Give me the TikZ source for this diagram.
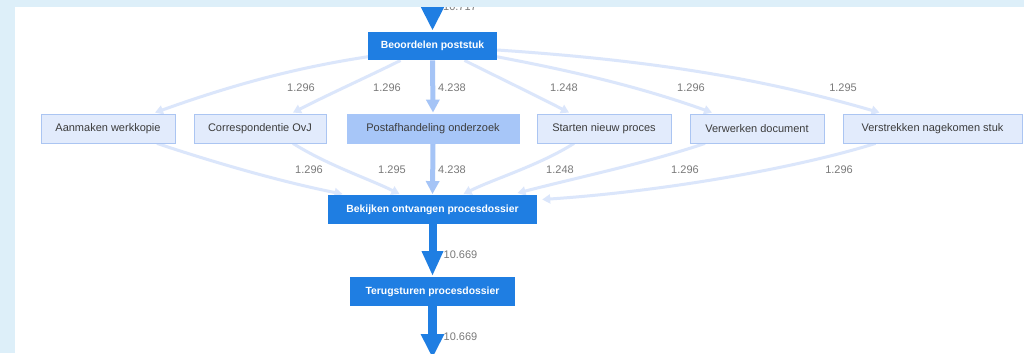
\documentclass[tikz,border=0pt]{standalone}
\usepackage{fontspec}
\setmainfont{Liberation Sans}
\usetikzlibrary{arrows.meta,backgrounds}
\definecolor{band}{RGB}{221,239,249}
\definecolor{dblue}{RGB}{31,126,226}
\definecolor{lfill}{RGB}{226,235,252}
\definecolor{lborder}{RGB}{171,197,242}
\definecolor{mfill}{RGB}{167,198,248}
\definecolor{ledge}{RGB}{219,230,251}
\definecolor{medge}{RGB}{165,196,246}
\definecolor{lbl}{RGB}{122,122,122}
\definecolor{txt}{RGB}{60,60,60}
\tikzset{
  darknode/.style={fill=dblue, text=white, inner sep=0pt, minimum height=28.5pt,
    font=\fontsize{10.4}{12}\selectfont\bfseries},
  lightnode/.style={fill=lfill, draw=lborder, line width=0.8pt, text=txt, inner sep=0pt,
    minimum height=29pt, font=\fontsize{11}{13}\selectfont},
  midnode/.style={lightnode, fill=mfill, draw=mfill},
  lightedge/.style={draw=ledge, line width=3pt, -{Triangle[width=9pt,length=8pt]}},
  midedge/.style={draw=medge, line width=5pt, -{Triangle[width=13pt,length=13pt]}},
  bigedge/.style={draw=dblue, line width=9pt, -{Triangle[width=22pt,length=24pt]}},
  cnt/.style={text=lbl, inner sep=0pt, font=\fontsize{11}{13}\selectfont}
}
\begin{document}
\begin{tikzpicture}[x=1pt,y=-1pt]
\useasboundingbox (0,0) rectangle (1024,353);

% nodes
\node[darknode, minimum width=129pt] (b) at (432.5,46) {Beoordelen poststuk};
\node[lightnode, minimum width=134pt] (a1) at (108,128.5) {Aanmaken werkkopie};
\node[lightnode, minimum width=132pt] (a2) at (260,128.5) {Correspondentie OvJ};
\node[midnode, minimum width=172pt] (a3) at (433,128.5) {Postafhandeling onderzoek};
\node[lightnode, minimum width=134pt] (a4) at (604,128.5) {Starten nieuw proces};
\node[lightnode, minimum width=134pt] (a5) at (757,128.5) {Verwerken document};
\node[lightnode, minimum width=179pt] (a6) at (932.5,128.5) {Verstrekken nagekomen stuk};
\node[darknode, minimum width=209pt] (c) at (432.5,209.5) {Bekijken ontvangen procesdossier};
\node[darknode, minimum width=165pt] (d) at (432.5,291.5) {Terugsturen procesdossier};

\coordinate (top) at (432.5,-30);
\coordinate (bot) at (432.5,358);

\begin{scope}[on background layer]
\fill[band] (0,0) rectangle (1024,353);
\fill[white] (15,7) rectangle (1024,353);
% upper fan
\draw[lightedge] ([xshift=2pt,yshift=4pt]b.south west) .. controls +(-80,12) and +(70,-25) .. ([xshift=47pt,yshift=1pt]a1.north);
\draw[lightedge] ([xshift=-32pt]b.south) .. controls +(-30,15) and +(35,-18) .. ([xshift=33pt,yshift=1pt]a2.north);
\draw[midedge] (b.south) -- ([yshift=1pt]a3.north);
\draw[lightedge] ([xshift=32pt]b.south) .. controls +(30,15) and +(-35,-18) .. ([xshift=-35pt,yshift=1pt]a4.north);
\draw[lightedge] ([xshift=-2pt,yshift=4pt]b.south east) .. controls +(80,15) and +(-70,-25) .. ([xshift=-45pt,yshift=1pt]a5.north);
\draw[lightedge] ([yshift=-4pt]b.east) .. controls +(150,10) and +(-120,-35) .. ([xshift=-53pt,yshift=1pt]a6.north);
% lower fan
\draw[lightedge] ([xshift=49pt]a1.south) .. controls +(60,20) and +(-60,-12) .. ([xshift=-90pt,yshift=1pt]c.north);
\draw[lightedge] ([xshift=33pt]a2.south) .. controls +(35,22) and +(-30,-15) .. ([xshift=-33pt,yshift=1pt]c.north);
\draw[midedge] (a3.south) -- ([yshift=1pt]c.north);
\draw[lightedge] ([xshift=-30pt]a4.south) .. controls +(-35,22) and +(30,-15) .. ([xshift=31pt,yshift=1pt]c.north);
\draw[lightedge] ([xshift=-52pt]a5.south) .. controls +(-60,20) and +(70,-18) .. ([xshift=85pt,yshift=2pt]c.north);
\draw[lightedge] ([xshift=-57pt]a6.south) .. controls +(-80,25) and +(120,-8) .. ([xshift=5pt,yshift=10pt]c.east);
% main flow
\draw[bigedge] (top) -- ([yshift=1pt]b.north);
\draw[bigedge, -{Triangle[width=20pt,length=25pt]}, line width=8pt] (c.south) -- ([yshift=1pt]d.north);
\draw[bigedge] (d.south) -- (bot);
\end{scope}

% labels
\node[cnt] (t0) at (460,7) {10.717};
\node[cnt] (u1) at (301,88) {1.296};
\node[cnt] (u2) at (387,88) {1.296};
\node[cnt] (u3) at (452,88) {4.238};
\node[cnt] (u4) at (564,88) {1.248};
\node[cnt] (u5) at (691,88) {1.296};
\node[cnt] (u6) at (843,88) {1.295};
\node[cnt] (v1) at (309,170) {1.296};
\node[cnt] (v2) at (392,170) {1.295};
\node[cnt] (v3) at (452,170) {4.238};
\node[cnt] (v4) at (560,170) {1.248};
\node[cnt] (v5) at (685,170) {1.296};
\node[cnt] (v6) at (839,170) {1.296};
\node[cnt] (w1) at (460.5,254.5) {10.669};
\node[cnt] (w2) at (460.5,337) {10.669};

% top band over the incoming arrow
\fill[band] (0,0) rectangle (1024,7);
\fill[band] (0,0) rectangle (15,353);
\end{tikzpicture}
\end{document}
